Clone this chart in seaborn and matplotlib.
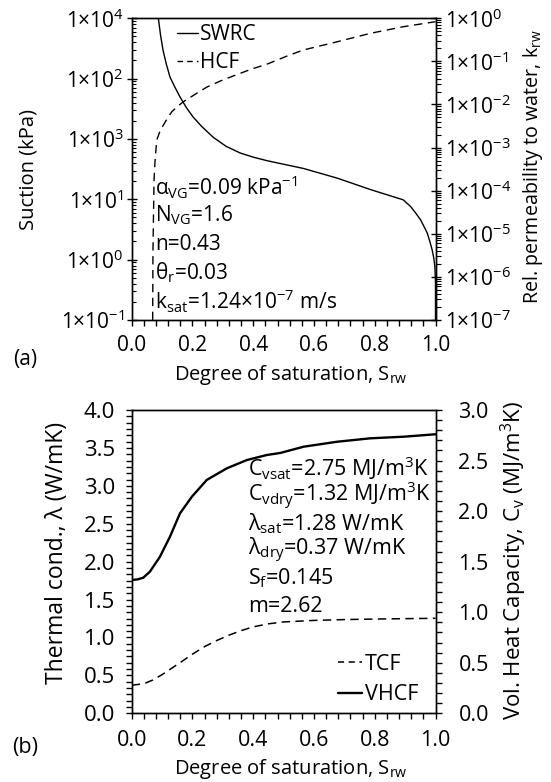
import numpy as np
import pandas as pd
import matplotlib
matplotlib.use('Agg')
import matplotlib.pyplot as plt
import matplotlib.ticker as mticker
from matplotlib.lines import Line2D
import seaborn as sns

# ---------------- data ----------------
# Panel (a): soil water retention curve (suction vs degree of saturation)
swrc_s = [0.0877, 0.095, 0.103, 0.114, 0.126, 0.140, 0.159, 0.180, 0.202, 0.230,
          0.268, 0.310, 0.357, 0.400, 0.446, 0.566, 0.677, 0.786, 0.894, 0.918,
          0.935, 0.951, 0.962, 0.973, 0.982, 0.989, 0.9945, 0.998, 1.0, 1.0]
swrc_suction = [1.0e4, 5250, 2985, 1740, 1064, 760, 497, 331, 232, 162,
                107, 75.9, 58.6, 50.0, 43.6, 32.4, 22.4, 14.5, 9.8, 7.6,
                5.9, 4.57, 3.55, 2.75, 1.95, 1.45, 1.05, 0.76, 0.41, 0.1]
# Panel (a): hydraulic conductivity function (relative permeability)
hcf_s = [0.069, 0.070, 0.0735, 0.077, 0.0824, 0.093, 0.104, 0.117, 0.132, 0.150,
         0.170, 0.214, 0.248, 0.290, 0.334, 0.390, 0.45, 0.51, 0.565, 0.677,
         0.786, 0.894, 1.0]
hcf_krw = [1.0e-7, 4.0e-6, 1.78e-4, 5.1e-4, 1.5e-3, 2.4e-3, 3.3e-3, 4.7e-3, 6.8e-3, 8.9e-3,
           1.16e-2, 1.82e-2, 2.55e-2, 3.47e-2, 4.58e-2, 6.46e-2, 8.9e-2, 0.132, 0.184, 0.286,
           0.449, 0.638, 0.834]
# Panel (b): thermal conductivity function
tcf_s = [0.0, 0.04, 0.07, 0.10, 0.13, 0.16, 0.20, 0.24, 0.28, 0.32, 0.36, 0.40,
         0.45, 0.50, 0.60, 0.70, 0.80, 0.90, 1.0]
tcf_lambda = [0.37, 0.39, 0.44, 0.51, 0.59, 0.67, 0.78, 0.88, 0.96, 1.03, 1.09, 1.14,
              1.18, 1.205, 1.225, 1.236, 1.243, 1.248, 1.253]
# Panel (b): volumetric heat capacity function
vhcf_s = [0.0, 0.02, 0.038, 0.06, 0.093, 0.126, 0.159, 0.198, 0.247, 0.313, 0.379,
          0.445, 0.489, 0.566, 0.676, 0.786, 0.896, 1.0]
vhcf_cv = [1.318, 1.325, 1.341, 1.401, 1.549, 1.747, 1.978, 2.142, 2.308, 2.423, 2.505,
           2.555, 2.575, 2.637, 2.686, 2.720, 2.736, 2.760]

x_ticks = [0.0, 0.2, 0.4, 0.6, 0.8, 1.0]
suction_ticks = [1e4, 1e3, 1e2, 1e1, 1e0, 1e-1]
suction_labels = ['1×10$^{\\mathregular{4}}$', '1×10$^{\\mathregular{2}}$', '1×10$^{\\mathregular{3}}$',
                  '1×10$^{\\mathregular{1}}$', '1×10$^{\\mathregular{0}}$', '1×10$^{\\mathregular{-1}}$']
krw_ticks = [1e0, 1e-1, 1e-2, 1e-3, 1e-4, 1e-5, 1e-6, 1e-7]
krw_labels = ['1×10$^{\\mathregular{0}}$', '1×10$^{\\mathregular{-1}}$', '1×10$^{\\mathregular{-2}}$',
              '1×10$^{\\mathregular{-3}}$', '1×10$^{\\mathregular{-4}}$', '1×10$^{\\mathregular{-5}}$',
              '1×10$^{\\mathregular{-6}}$', '1×10$^{\\mathregular{-7}}$']
lam_ticks = [0.0, 0.5, 1.0, 1.5, 2.0, 2.5, 3.0, 3.5, 4.0]
cv_ticks = [0.0, 0.5, 1.0, 1.5, 2.0, 2.5, 3.0]

params_a = ['α$_{\\mathregular{VG}}$=0.09 kPa$^{\\mathregular{-1}}$',
            'N$_{\\mathregular{VG}}$=1.6',
            'n=0.43',
            'θ$_{\\mathregular{r}}$=0.03',
            'k$_{\\mathregular{sat}}$=1.24×10$^{\\mathregular{-7}}$ m/s']
params_b = ['C$_{\\mathregular{vsat}}$=2.75 MJ/m$^{\\mathregular{3}}$K',
            'C$_{\\mathregular{vdry}}$=1.32 MJ/m$^{\\mathregular{3}}$K',
            'λ$_{\\mathregular{sat}}$=1.28 W/mK',
            'λ$_{\\mathregular{dry}}$=0.37 W/mK',
            'S$_{\\mathregular{f}}$=0.145',
            'm=2.62']

# ---------------- style ----------------
sns.set_style('ticks')
FA = 15.0     # panel (a) text
FB = 15.5     # panel (b) text
FX = 14.5     # x-axis titles
plt.rcParams['font.family'] = ['Open Sans', 'DejaVu Sans']
plt.rcParams['mathtext.fontset'] = 'custom'
plt.rcParams['mathtext.rm'] = 'Open Sans'
plt.rcParams['mathtext.it'] = 'Open Sans:italic'
plt.rcParams['mathtext.bf'] = 'Open Sans:bold'
plt.rcParams['font.size'] = FA
plt.rcParams['axes.linewidth'] = 1.0
plt.rcParams['axes.edgecolor'] = 'black'
plt.rcParams['xtick.color'] = 'black'
plt.rcParams['ytick.color'] = 'black'
plt.rcParams['text.color'] = 'black'
plt.rcParams['axes.labelcolor'] = 'black'

W, H = 551, 782
fig = plt.figure(figsize=(W / 100, H / 100), dpi=100)


def fig_rect(x0, y0, x1, y1):
    return [x0 / W, 1 - y1 / H, (x1 - x0) / W, (y1 - y0) / H]


# ---------------- panel (a) ----------------
axa = fig.add_axes(fig_rect(131.7, 18.3, 435.5, 320))
axa2 = axa.twinx()

df_swrc = pd.DataFrame({'S': swrc_s, 'psi': swrc_suction})
df_hcf = pd.DataFrame({'S': hcf_s, 'k': hcf_krw})
sns.lineplot(data=df_swrc, x='S', y='psi', ax=axa, color='black', lw=1.0,
             estimator=None, sort=False, legend=False)
sns.lineplot(data=df_hcf, x='S', y='k', ax=axa2, color='black', lw=1.0,
             linestyle=(0, (6, 4)), estimator=None, sort=False, legend=False)

axa.set_xlim(0, 1)
axa.set_yscale('log')
axa.set_ylim(1e-1, 1e4)
axa2.set_yscale('log')
axa2.set_ylim(1e-7, 1e0)

axa.set_xticks(x_ticks)
axa.set_xticklabels([f'{v:.1f}' for v in x_ticks])
axa.xaxis.set_minor_locator(mticker.MultipleLocator(0.04))
axa.tick_params(axis='x', which='both', direction='out', length=4, width=1.0, pad=7,
                labelsize=FA, top=False)

axa.set_yticks(suction_ticks)
axa.set_yticklabels(suction_labels)
axa.yaxis.set_minor_locator(mticker.LogLocator(base=10, subs=np.arange(2, 10), numticks=20))
axa.yaxis.set_minor_formatter(mticker.NullFormatter())
axa.tick_params(axis='y', which='major', direction='inout', length=7, width=1.0, pad=2,
                labelsize=FA)
axa.tick_params(axis='y', which='minor', direction='in', length=3.2, width=0.8)

axa2.set_yticks(krw_ticks)
axa2.set_yticklabels(krw_labels)
axa2.yaxis.set_minor_locator(mticker.LogLocator(base=10, subs=np.arange(2, 10), numticks=20))
axa2.yaxis.set_minor_formatter(mticker.NullFormatter())
axa2.tick_params(axis='y', which='major', direction='inout', length=7, width=1.0, pad=3,
                 labelsize=FA)
axa2.tick_params(axis='y', which='minor', direction='out', length=3.5, width=0.8)

axa.set_xlabel('Degree of saturation, S$_{\\mathregular{rw}}$', fontsize=FX)
axa.set_ylabel('Suction (kPa)', fontsize=14.5)
axa2.set_ylabel('Rel. permeability to water, k$_{\\mathregular{rw}}$', fontsize=14.2)
axa.xaxis.set_label_coords(0.524, -0.1425)
axa.yaxis.set_label_coords(-0.307, 0.5)
axa2.yaxis.set_label_coords(1.283, 0.509)

leg_a = axa2.legend(handles=[Line2D([], [], color='black', lw=1.0),
                             Line2D([], [], color='black', lw=1.0, linestyle=(0, (4, 3)))],
                    labels=['SWRC', 'HCF'], loc='upper left',
                    bbox_to_anchor=(177 / W, 1 - 24 / H), bbox_transform=fig.transFigure,
                    frameon=False, borderpad=0, borderaxespad=0, handlelength=1.0,
                    handletextpad=0.1, labelspacing=0.33, fontsize=FA)

for i, t in enumerate(params_a):
    fig.text(155 / W, 1 - (187 + i * 28.5) / H, t, fontsize=FA, ha='left', va='center')

fig.text(25 / W, 1 - 360 / H, '(a)', fontsize=FA, ha='center', va='center')

# ---------------- panel (b) ----------------
axb = fig.add_axes(fig_rect(131.7, 410, 435.5, 713.3))
axb2 = axb.twinx()

df_tcf = pd.DataFrame({'S': tcf_s, 'lam': tcf_lambda})
df_vhcf = pd.DataFrame({'S': vhcf_s, 'cv': vhcf_cv})
sns.lineplot(data=df_tcf, x='S', y='lam', ax=axb, color='black', lw=1.1,
             linestyle=(0, (5.5, 3.5)), estimator=None, sort=False, legend=False)
sns.lineplot(data=df_vhcf, x='S', y='cv', ax=axb2, color='black', lw=1.7,
             estimator=None, sort=False, legend=False)

axb.set_xlim(0, 1)
axb.set_ylim(0, 4)
axb2.set_ylim(0, 3)
axb.set_xticks(x_ticks)
axb.set_xticklabels([f'{v:.1f}' for v in x_ticks])
axb.xaxis.set_minor_locator(mticker.MultipleLocator(0.04))
axb.tick_params(axis='x', which='both', direction='out', length=4, width=1.0, pad=8,
                labelsize=FB, top=False)
axb.set_yticks(lam_ticks)
axb.set_yticklabels([f'{v:.1f}' for v in lam_ticks])
axb.yaxis.set_minor_locator(mticker.MultipleLocator(1 / 12))
axb.tick_params(axis='y', which='both', direction='out', length=4.5, width=1.0, pad=7.5,
                labelsize=16)
axb2.set_yticks(cv_ticks)
axb2.set_yticklabels([f'{v:.1f}' for v in cv_ticks])
axb2.yaxis.set_minor_locator(mticker.MultipleLocator(0.1))
axb2.tick_params(axis='y', which='both', direction='out', length=4.5, width=1.0, pad=12,
                 labelsize=FB)

axb.set_xlabel('Degree of saturation, S$_{\\mathregular{rw}}$', fontsize=FX)
axb.set_ylabel('Thermal cond., λ (W/mK)', fontsize=16.5)
axb2.set_ylabel('Vol. Heat Capacity, C$_{\\mathregular{v}}$ (MJ/m$^{\\mathregular{3}}$K)', fontsize=16)
axb.xaxis.set_label_coords(0.524, -0.144)
axb.yaxis.set_label_coords(-0.207, 0.530)
axb2.yaxis.set_label_coords(1.208, 0.505)

leg_b = axb2.legend(handles=[Line2D([], [], color='black', lw=1.1, linestyle=(0, (4, 3))),
                             Line2D([], [], color='black', lw=1.7)],
                    labels=['TCF', 'VHCF'], loc='upper left',
                    bbox_to_anchor=(338 / W, 1 - 654 / H), bbox_transform=fig.transFigure,
                    frameon=False, borderpad=0, borderaxespad=0, handlelength=1.1,
                    handletextpad=0.15, labelspacing=0.42, fontsize=FB)

for i, t in enumerate(params_b):
    fig.text(248 / W, 1 - (468 + i * 27.6) / H, t, fontsize=FB, ha='left', va='center')

fig.text(25 / W, 1 - 747 / H, '(b)', fontsize=FB, ha='center', va='center')

fig.savefig('out.png', dpi=100)
